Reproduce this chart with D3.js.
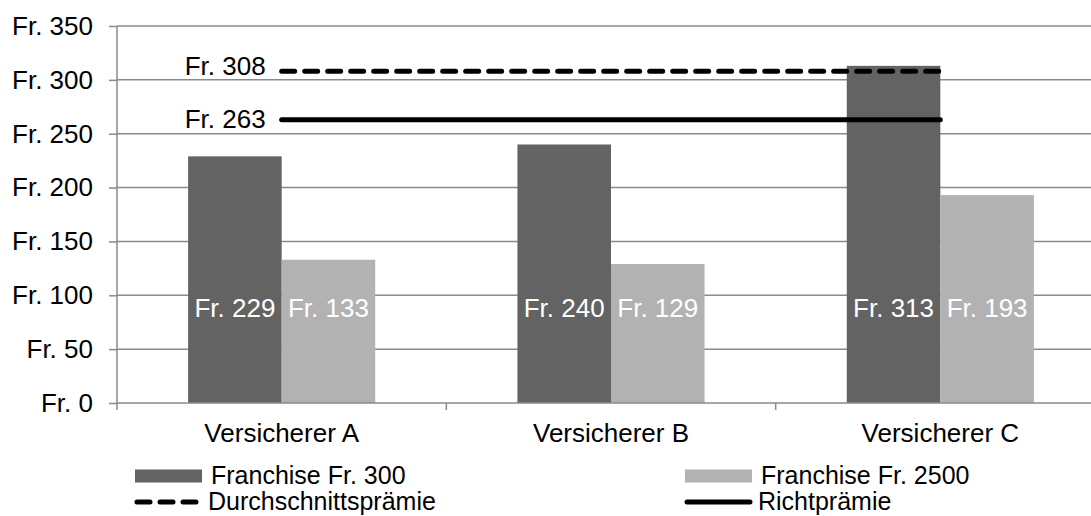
<!DOCTYPE html>
<html>
<head>
<meta charset="utf-8">
<script src="https://cdn.jsdelivr.net/npm/d3@7"></script>
<style>
  html, body { margin: 0; padding: 0; background: #fff; }
  svg { display: block; font-family: "Liberation Sans", Arial, sans-serif; }
</style>
</head>
<body>
<svg id="chart" width="1091" height="516"></svg>
<script>
const categories = ["Versicherer A", "Versicherer B", "Versicherer C"];
const seriesNames = ["Franchise Fr. 300", "Franchise Fr. 2500"];
const franchise300 = [229, 240, 313];
const franchise2500 = [133, 129, 193];
const durchschnitt = 308;
const richtpraemie = 263;
const yTicks = [0, 50, 100, 150, 200, 250, 300, 350];
const lineNames = ["Durchschnittsprämie", "Richtprämie"];

const colors = ["#636363", "#b2b2b2"];
const gridColor = "#8a8a8a";
const fontSize = 26;
const legendFontSize = 25;

const svg = d3.select("#chart");
const mLeft = 117, mRight = 1105, mTop = 26, mBottom = 403;

const x = d3.scaleBand().domain(categories).range([mLeft, mRight]).paddingInner(0).paddingOuter(0);
const xSub = d3.scaleBand().domain(seriesNames).range([0, x.bandwidth()]).paddingInner(0).paddingOuter(0.76);
const y = d3.scaleLinear().domain([0, 350]).range([mBottom, mTop]);

const fmt = v => "Fr. " + v;

// gridlines
svg.append("g").selectAll("line").data(yTicks.filter(d => d > 0)).join("line")
  .attr("x1", mLeft).attr("x2", mRight)
  .attr("y1", d => y(d)).attr("y2", d => y(d))
  .attr("stroke", gridColor).attr("stroke-width", 1.5);

// y axis
const yAxis = d3.axisLeft(y).tickValues(yTicks).tickSize(8).tickPadding(16).tickFormat(fmt);
const gy = svg.append("g").attr("transform", `translate(${mLeft},0)`).call(yAxis);
gy.select(".domain").attr("stroke", gridColor).attr("stroke-width", 1.5).attr("d", `M0,${mTop}V${mBottom + 7}`);
gy.selectAll(".tick line").attr("stroke", gridColor).attr("stroke-width", 1.5);
gy.selectAll(".tick text").attr("font-size", fontSize).attr("fill", "#000")
  .attr("font-family", "Liberation Sans, Arial, sans-serif");

// bars
const data = categories.map((c, i) => ({ cat: c, values: [franchise300[i], franchise2500[i]] }));
const groups = svg.append("g").selectAll("g").data(data).join("g")
  .attr("transform", d => `translate(${x(d.cat)},0)`);
groups.selectAll("rect").data(d => d.values.map((v, j) => ({ name: seriesNames[j], v, j }))).join("rect")
  .attr("x", d => xSub(d.name))
  .attr("width", xSub.bandwidth())
  .attr("y", d => y(d.v))
  .attr("height", d => y(0) - y(d.v))
  .attr("fill", d => colors[d.j]);

// x axis
const xAxis = d3.axisBottom(x).tickSize(0).tickFormat(d => d).tickPadding(21);
const gx = svg.append("g").attr("transform", `translate(0,${mBottom})`).call(xAxis);
gx.select(".domain").attr("stroke", gridColor).attr("stroke-width", 1.5).attr("d", `M${mLeft},0H${mRight}`);
gx.selectAll(".tick text").attr("font-size", fontSize).attr("fill", "#000")
  .attr("font-family", "Liberation Sans, Arial, sans-serif");
// category boundary ticks
svg.append("g").selectAll("line").data(categories.slice(1)).join("line")
  .attr("x1", d => x(d)).attr("x2", d => x(d))
  .attr("y1", mBottom).attr("y2", mBottom + 7)
  .attr("stroke", gridColor).attr("stroke-width", 1.5);

// bar labels
groups.selectAll("text.val").data(d => d.values.map((v, j) => ({ name: seriesNames[j], v, j }))).join("text")
  .attr("class", "val")
  .attr("x", d => xSub(d.name) + xSub.bandwidth() / 2)
  .attr("y", y(88))
  .attr("dy", "0.35em")
  .attr("text-anchor", "middle")
  .attr("font-size", fontSize)
  .attr("fill", "#fff")
  .text(d => fmt(d.v));

// horizontal reference lines
const x0 = x(categories[0]) + x.bandwidth() / 2;
const x1 = x(categories[categories.length - 1]) + x.bandwidth() / 2;
const lineW = 5;
const refs = [
  { v: durchschnitt, dash: "13,10" },
  { v: richtpraemie, dash: null }
];
svg.append("g").selectAll("line").data(refs).join("line")
  .attr("x1", x0).attr("x2", x1)
  .attr("y1", d => y(d.v)).attr("y2", d => y(d.v))
  .attr("stroke", "#000").attr("stroke-width", lineW)
  .attr("stroke-linecap", "round")
  .attr("stroke-dasharray", d => d.dash);
svg.append("g").selectAll("text").data(refs).join("text")
  .attr("x", x0 - 16)
  .attr("y", d => y(d.v))
  .attr("dy", d => d.dash ? "0.15em" : "0.33em")
  .attr("text-anchor", "end")
  .attr("font-size", fontSize)
  .attr("fill", "#000")
  .text(d => fmt(d.v));

// legend
const legend = svg.append("g");
const legItems = [
  { type: "rect", label: seriesNames[0], color: colors[0], lx: 135, ly: 476 },
  { type: "rect", label: seriesNames[1], color: colors[1], lx: 685, ly: 476 },
  { type: "dash", label: lineNames[0], lx: 135, ly: 502 },
  { type: "line", label: lineNames[1], lx: 685, ly: 502 }
];
legItems.forEach(it => {
  if (it.type === "rect") {
    legend.append("rect").attr("x", it.lx).attr("y", it.ly - 6.5).attr("width", 67).attr("height", 13).attr("fill", it.color);
  } else {
    legend.append("line").attr("x1", it.lx + 2).attr("x2", it.lx + 65)
      .attr("y1", it.ly).attr("y2", it.ly)
      .attr("stroke", "#000").attr("stroke-width", lineW).attr("stroke-linecap", "round")
      .attr("stroke-dasharray", it.type === "dash" ? "13,10" : null);
  }
  legend.append("text").attr("x", it.lx + (it.type === "rect" ? 76 : 73)).attr("y", it.ly).attr("dy", "0.33em")
    .attr("font-size", legendFontSize).attr("fill", "#000").text(it.label);
});
</script>
</body>
</html>
